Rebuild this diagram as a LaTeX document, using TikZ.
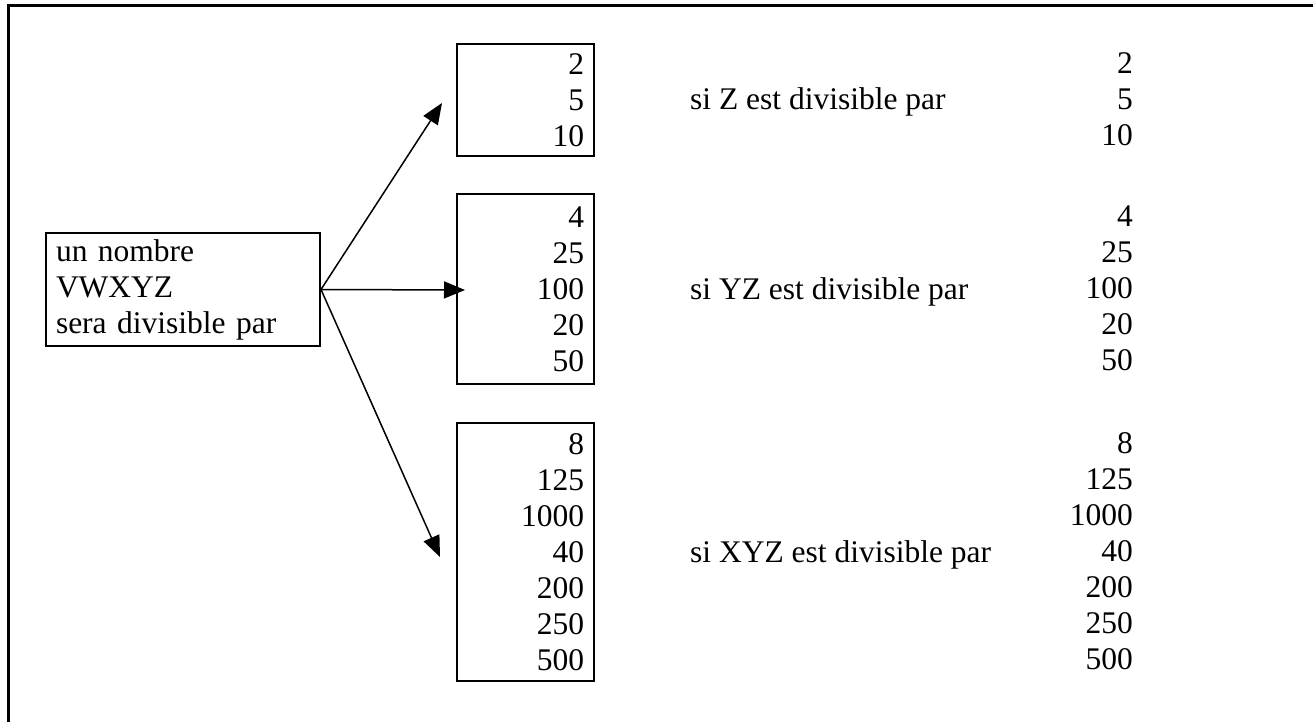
\documentclass[tikz,border=0pt]{standalone}
\usepackage{fontspec}
\setmainfont{Liberation Serif}
\usetikzlibrary{arrows.meta}
\begin{document}
\begin{tikzpicture}[x=1pt,y=-1pt,
  bodyfont/.style={font=\fontsize{31.5}{36}\selectfont},
  numbox/.style={bodyfont, draw, line width=2pt, anchor=north west, minimum width=137pt,
    text width=117pt, inner xsep=10pt, inner ysep=0pt, align=right},
  leftbox/.style={bodyfont, draw, line width=2pt, anchor=north west, minimum width=274pt,
    text width=254pt, inner xsep=10pt, inner ysep=0pt, align=left},
  numcol/.style={bodyfont, inner sep=0pt, align=right, anchor=east},
  condlabel/.style={bodyfont, inner sep=0pt, anchor=base west},
  arr/.style={line width=1.5pt, -{Triangle[length=21pt,width=17pt]}}
]
\useasboundingbox (0,0) rectangle (1313,722);
% page frame (top and left edges)
\draw[line width=3pt] (8,722) -- (8,6) -- (1313,6);

% left box
\node[leftbox, minimum height=113pt] (src) at (45,232) {un nombre\\VWXYZ\\sera divisible par};

% boxes of divisors
\node[numbox, minimum height=112pt] (b1) at (456,43) {2\\5\\10};
\node[numbox, minimum height=190pt] (b2) at (456,193) {4\\25\\100\\20\\50};
\node[numbox, minimum height=258pt] (b3) at (456,422) {8\\125\\1000\\40\\200\\250\\500};

% arrow tips
\coordinate (t1) at (442,103);
\coordinate (t2) at (465,290);
\coordinate (t3) at (440,557);
\draw[arr] (src.east) -- (t1);
\draw[arr] (src.east) -- (t2);
\draw[arr] (src.east) -- (t3);

% conditions
\node[condlabel] (c1) at (690,110) {si Z est divisible par};
\node[condlabel] (c2) at (690,299) {si YZ est divisible par};
\node[condlabel] (c3) at (690,562) {si XYZ est divisible par};

% right columns
\node[numcol] (r1) at (1133,99) {2\\5\\10};
\node[numcol] (r2) at (1133,288) {4\\25\\100\\20\\50};
\node[numcol] (r3) at (1133,551) {8\\125\\1000\\40\\200\\250\\500};
\end{tikzpicture}
\end{document}
